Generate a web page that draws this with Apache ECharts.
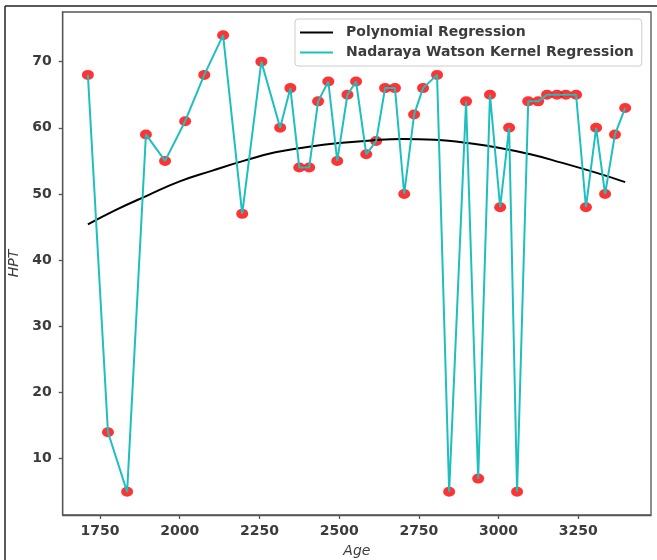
<!DOCTYPE html>
<html><head><meta charset="utf-8">
<script src="https://cdn.jsdelivr.net/npm/echarts@6/dist/echarts.min.js"></script>
<style>html,body{margin:0;padding:0;background:#fff}#c{width:657px;height:560px}</style>
</head><body><div id="c"></div>
<script>
const ages = [1712,1775,1835,1894,1954,2017,2077,2136,2196,2256,2315,2347,2375,2406,2434,2466,2494,2526,2553,2585,2616,2644,2675,2704,2735,2763,2807,2845,2898,2936,2973,3005,3033,3058,3093,3124,3152,3183,3211,3243,3274,3306,3334,3365,3397];
const hpt = [68,14,5,59,55,61,68,74,47,70,60,66,54,54,64,67,55,65,67,56,58,66,66,50,62,66,68,5,64,7,65,48,60,5,64,64,65,65,65,65,48,60,50,59,63];
const polyAges = [1712,1800,1900,2000,2100,2200,2300,2400,2500,2600,2700,2800,2900,3000,3100,3200,3300,3397];
const polyVals = [45.4,47.6,49.8,51.9,53.5,55.0,56.3,57.1,57.7,58.1,58.3,58.2,57.7,57.0,56.0,54.7,53.3,51.8];
const xTicks = [1750,2000,2250,2500,2750,3000,3250];
const yTicks = [10,20,30,40,50,60,70];
const seriesNames = ['Polynomial Regression','Nadaraya Watson Kernel Regression'];

const font = 'DejaVu Sans';
const txt = '#3c3c3c';
const pts = ages.map((a,i)=>[a,hpt[i]]);
const poly = polyAges.map((a,i)=>[a,polyVals[i]]);
const chart = echarts.init(document.getElementById('c'), null, {renderer:'canvas'});
chart.setOption({
  animation:false,
  backgroundColor:'#fff',
  grid:{left:62.7, right:6, top:12, bottom:45, containLabel:false, outerBoundsMode:'none', show:true, borderColor:'#555', borderWidth:1.3, backgroundColor:'transparent'},
  xAxis:{type:'value', min:1633, max:3478, name:'Age', nameLocation:'middle', nameGap:29,
    nameTextStyle:{fontFamily:font, fontSize:14, fontStyle:'italic', color:txt},
    axisLine:{show:true, onZero:false, lineStyle:{color:'#555', width:1.3}},
    axisTick:{show:true, length:4, customValues:xTicks, lineStyle:{color:'#555', width:1.3}},
    axisLabel:{customValues:xTicks, formatter:v=>String(v), fontFamily:font, fontSize:14, fontWeight:'bold', color:txt, margin:9},
    splitLine:{show:false}},
  yAxis:{type:'value', min:1.5, max:77.5, name:'HPT', nameLocation:'middle', nameGap:41, nameRotate:90,
    nameTextStyle:{fontFamily:font, fontSize:14, fontStyle:'italic', color:txt},
    axisLine:{show:true, onZero:false, lineStyle:{color:'#555', width:1.3}},
    axisTick:{show:true, length:4, customValues:yTicks, lineStyle:{color:'#555', width:1.3}},
    axisLabel:{customValues:yTicks, formatter:v=>String(v), fontFamily:font, fontSize:14, fontWeight:'bold', color:txt, margin:11},
    splitLine:{show:false}},
  legend:{left:295, top:19, orient:'vertical', padding:[6,8,6,5], itemGap:5, itemWidth:33, itemHeight:2, icon:'rect',
    borderColor:'#ccc', borderWidth:1, borderRadius:3, backgroundColor:'rgba(255,255,255,0.85)',
    textStyle:{fontFamily:font, fontSize:14, fontWeight:'bold', color:txt, lineHeight:15, padding:[0,0,0,8]},
    data:seriesNames},
  graphic:[
    {type:'line', shape:{x1:5, y1:6, x2:5, y2:560}, style:{stroke:'#222', lineWidth:1.5}},
    {type:'line', shape:{x1:5, y1:6, x2:657, y2:6}, style:{stroke:'#222', lineWidth:1.5}}
  ],
  series:[
    {type:'scatter', data:pts, symbol:'circle', symbolSize:[12,10], itemStyle:{color:'#f00'}, z:2, silent:true},
    {name:seriesNames[0], type:'line', data:poly, smooth:true, showSymbol:false, lineStyle:{color:'#000', width:2}, itemStyle:{color:'#000'}, z:3},
    {name:seriesNames[1], type:'line', data:pts, showSymbol:false, lineStyle:{color:'#1fbfbf', width:2}, itemStyle:{color:'#1fbfbf'}, z:4}
  ]
});
</script></body></html>
